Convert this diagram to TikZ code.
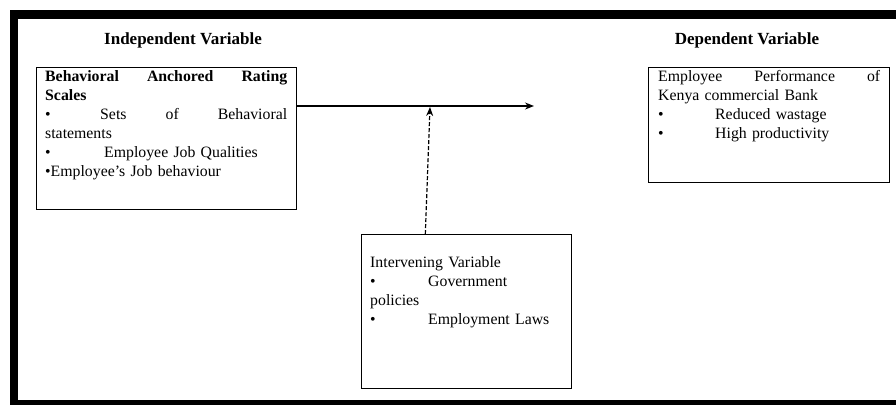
\documentclass[tikz,border=0pt]{standalone}
\usepackage{fontspec}
\setmainfont{Liberation Serif}
\usetikzlibrary{calc,arrows.meta}
\begin{document}
\begin{tikzpicture}[x=1pt,y=-1pt,
  vbox/.style={draw=black,line width=0.9pt,rectangle,inner sep=0pt,anchor=north west},
  body/.style={inner sep=0pt,anchor=north west,align=left,font=\fontsize{15.8}{19}\selectfont},
  title/.style={inner sep=0pt,font=\fontsize{17}{19}\selectfont\bfseries},
  band/.style={fill=black,draw=none},
  bul/.style={}]
\useasboundingbox (0,0) rectangle (896,405);
% frame
\fill[band] (10,10) rectangle (896,19);
\fill[band] (10,10) rectangle (18,405);
\fill[band] (10,400) rectangle (896,405);
% titles
\node[title] (tind) at (183,40) {Independent Variable};
\node[title] (tdep) at (747,40) {Dependent Variable};
% boxes
\node[vbox,minimum width=260pt,minimum height=142pt] (lb) at (36,67) {};
\node[vbox,minimum width=241pt,minimum height=115pt] (rb) at (648,67) {};
\node[vbox,minimum width=210pt,minimum height=154pt] (ib) at (361,234) {};
% texts
\node[body,text width=242pt] (lbt) at (45,70) {%
\makebox[242pt][s]{\bfseries Behavioral\hfill Anchored\hfill Rating}\\
{\bfseries Scales}\\
\makebox[242pt][s]{\makebox[55pt][l]{•}Sets\hfill of\hfill Behavioral}\\
statements\\
\makebox[59pt][l]{•}Employee Job Qualities\\
•Employee's Job behaviour};
\node[body,text width=222pt] (rbt) at (658,70) {%
\makebox[222pt][s]{Employee\hfill Performance\hfill of}\\
Kenya commercial Bank\\
\makebox[57pt][l]{•}Reduced wastage\\
\makebox[57pt][l]{•}High productivity};
\node[body,text width=195pt] (ibt) at (370,256) {%
Intervening Variable\\
\makebox[58pt][l]{•}Government\\
policies\\
\makebox[58pt][l]{•}Employment Laws};
% connectors
\coordinate (aend) at (534,106);
\coordinate (dtip) at (430,107);
\draw[line width=1.3pt,-{Stealth[length=9pt,width=7pt]}] (lb.east |- aend) -- (aend);
\draw[line width=1.2pt,dashed,dash pattern=on 4pt off 2pt,-{Stealth[length=9pt,width=7pt]}]
  ($(ib.north west)!0.305!(ib.north east)$) -- (dtip);
\end{tikzpicture}
\end{document}
